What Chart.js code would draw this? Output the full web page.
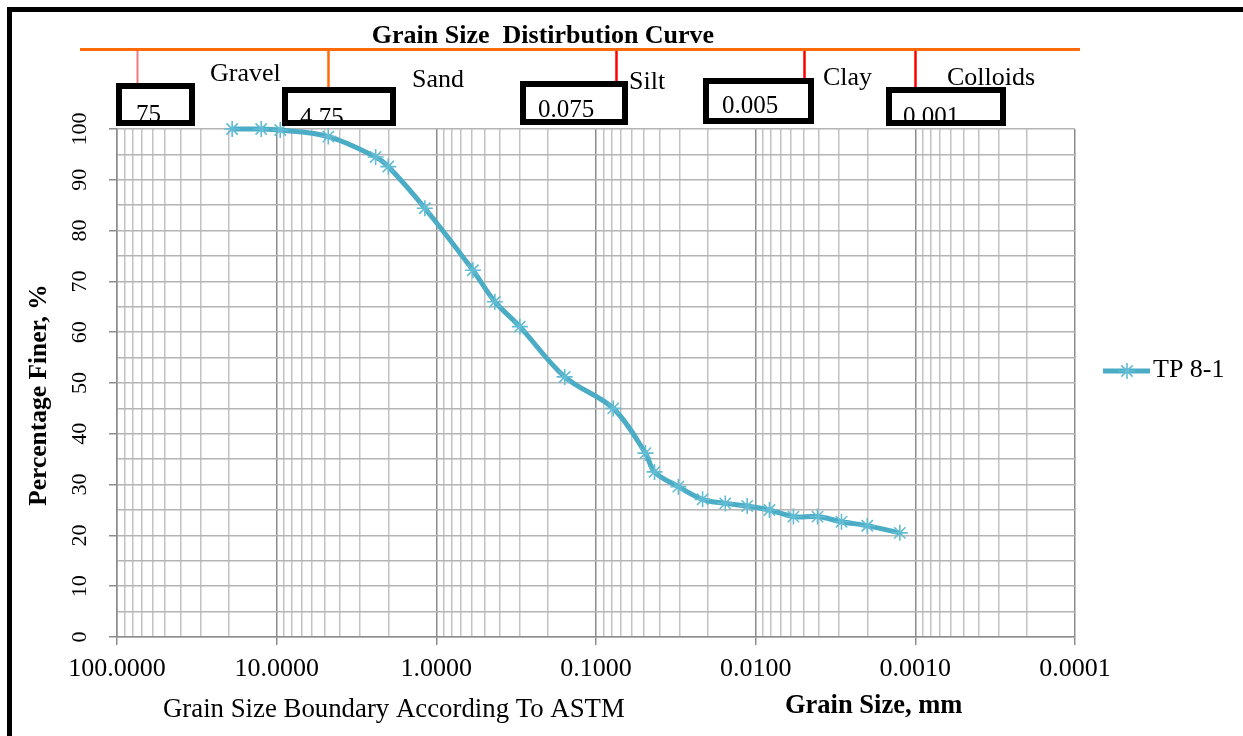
<!DOCTYPE html>
<html>
<head>
<meta charset="utf-8">
<title>Grain Size Distribution Curve</title>
<script src="https://cdn.jsdelivr.net/npm/chart.js@4.4.1/dist/chart.umd.min.js"></script>
<style>
  html, body { margin: 0; padding: 0; background: #ffffff; }
  #wrap { position: relative; width: 1243px; height: 736px; }
</style>
</head>
<body>
<div id="wrap"><canvas id="gsd" width="1243" height="736"></canvas></div>
<script>
// ---- Test results: sample TP 8-1 (sieve + hydrometer) ----
const seriesName = 'TP 8-1';
const grainSizeMm = [19.0, 12.5, 9.5, 4.75, 2.4, 2.0, 1.18, 0.59, 0.43, 0.30, 0.157, 0.078,
                     0.049, 0.043, 0.0305, 0.0215, 0.0155, 0.0113, 0.0082, 0.0058, 0.0041, 0.0029, 0.0020, 0.00125];
const percentFiner = [100, 100, 99.8, 98.5, 94.5, 92.6, 84.4, 72.2, 66.0, 61.1, 51.2, 45.0,
                      36.2, 32.5, 29.6, 27.1, 26.3, 25.8, 25.0, 23.7, 23.7, 22.7, 21.9, 20.5];

// ---- Axis ticks ----
const decadeTicks = [100, 10, 1, 0.1, 0.01, 0.001, 0.0001];
const decadeSubdivisions = [9, 8, 7, 6, 5, 4, 3, 2];
const finerTickLabels = [0, 10, 20, 30, 40, 50, 60, 70, 80, 90, 100];

// ---- ASTM grain size boundaries (mm) and soil classes ----
const boundarySizes = [75, 4.75, 0.075, 0.005, 0.001];
const boundaryLabels = ['75', '4.75', '0.075', '0.005', '0.001'];
const soilClasses = ['Gravel', 'Sand', 'Silt', 'Clay', 'Colloids'];

// ---- Header layout (boxes, labels, boundary marker styles) ----
const boxFrames = [[116, 83, 195, 126], [282, 87, 396, 126], [520, 81, 628, 125], [703, 78, 814, 124], [886, 87, 1006, 126]];
const boxTextAt = [[136, 122], [300, 125], [538, 117], [722, 113], [903, 124]];
const classLabelAt = [[210, 81], [412, 87], [629, 89], [823, 85], [947, 85]];
const boundaryColors = ['#f67878', '#ff6a0a', '#ff0000', '#ff0000', '#ff0000'];

const SERIF = '"Liberation Serif", "Times New Roman", serif';
const LINE_COLOR = '#4bacc6';
const MAJOR_GRID = '#8c8c8c';
const MINOR_GRID = '#c2c2c2';

function buildLogTicks() {
  const ticks = [];
  decadeTicks.forEach((d, i) => {
    ticks.push({ value: d, major: true });
    if (i < decadeTicks.length - 1) {
      decadeSubdivisions.forEach(m => ticks.push({ value: d * m / 10, major: false }));
    }
  });
  return ticks;
}

function drawStar(ctx, cx, cy, r) {
  ctx.beginPath();
  ctx.moveTo(cx, cy - r); ctx.lineTo(cx, cy + r);
  ctx.moveTo(cx - r, cy); ctx.lineTo(cx + r, cy);
  const d = r * Math.SQRT1_2;
  ctx.moveTo(cx - d, cy - d); ctx.lineTo(cx + d, cy + d);
  ctx.moveTo(cx - d, cy + d); ctx.lineTo(cx + d, cy - d);
  ctx.stroke();
}

// Header bands, frame, captions and legend drawn around the plot
const decorations = {
  id: 'gsdDecorations',
  afterDraw(chart) {
    const { ctx, scales } = chart;
    const x = scales.x;
    ctx.save();

    // outer frame (top and left edges)
    ctx.fillStyle = '#000';
    ctx.fillRect(7, 7, 1236, 5);
    ctx.fillRect(7, 7, 5, 729);

    // title
    ctx.fillStyle = '#000';
    ctx.font = 'bold 26px ' + SERIF;
    ctx.textAlign = 'center';
    ctx.textBaseline = 'alphabetic';
    ctx.fillText('Grain Size  Distirbution Curve', 543, 43);

    // orange band line
    ctx.strokeStyle = '#ff6a0a';
    ctx.lineWidth = 3;
    ctx.beginPath();
    ctx.moveTo(80, 49.5); ctx.lineTo(1080, 49.5);
    ctx.stroke();

    // boundary markers down to their boxes
    boundarySizes.forEach((s, i) => {
      const px = Math.round(x.getPixelForValue(s)) + 0.5;
      ctx.strokeStyle = boundaryColors[i];
      ctx.lineWidth = i === 0 ? 2 : 2.5;
      ctx.beginPath();
      ctx.moveTo(px, 51); ctx.lineTo(px, boxFrames[i][1]);
      ctx.stroke();
    });

    // soil class names
    ctx.font = '26px ' + SERIF;
    ctx.textAlign = 'left';
    ctx.fillStyle = '#000';
    soilClasses.forEach((name, i) => {
      ctx.fillText(name, classLabelAt[i][0], classLabelAt[i][1]);
    });

    // boundary value boxes
    boundaryLabels.forEach((lab, i) => {
      const [x0, y0, x1, y1] = boxFrames[i];
      ctx.fillStyle = '#fff';
      ctx.fillRect(x0, y0, x1 - x0, y1 - y0);
      ctx.save();
      ctx.beginPath();
      ctx.rect(x0 + 6, y0 + 6, x1 - x0 - 12, y1 - y0 - 12);
      ctx.clip();
      ctx.fillStyle = '#000';
      ctx.font = '25px ' + SERIF;
      ctx.textAlign = 'left';
      ctx.fillText(lab, boxTextAt[i][0], boxTextAt[i][1]);
      ctx.restore();
      ctx.strokeStyle = '#000';
      ctx.lineWidth = 6;
      ctx.strokeRect(x0 + 3, y0 + 3, x1 - x0 - 6, y1 - y0 - 6);
    });

    // y axis caption
    ctx.save();
    ctx.translate(46, 395);
    ctx.rotate(-Math.PI / 2);
    ctx.font = 'bold 25.5px ' + SERIF;
    ctx.textAlign = 'center';
    ctx.fillStyle = '#000';
    ctx.fillText('Percentage Finer, %', 0, 0);
    ctx.restore();

    // x axis captions
    ctx.fillStyle = '#000';
    ctx.textAlign = 'left';
    ctx.font = '26.8px ' + SERIF;
    ctx.fillText('Grain Size Boundary According To ASTM', 163, 717);
    ctx.font = 'bold 26.5px ' + SERIF;
    ctx.fillText('Grain Size, mm', 785, 713);

    // legend
    const ds = chart.data.datasets[0];
    const ly = 371;
    ctx.strokeStyle = ds.borderColor;
    ctx.lineWidth = ds.borderWidth;
    ctx.beginPath();
    ctx.moveTo(1103, ly); ctx.lineTo(1150, ly);
    ctx.stroke();
    ctx.strokeStyle = ds.pointBorderColor;
    ctx.lineWidth = ds.pointBorderWidth;
    drawStar(ctx, 1127, ly, ds.pointRadius);
    ctx.fillStyle = '#000';
    ctx.font = '26px ' + SERIF;
    ctx.textAlign = 'left';
    ctx.fillText(ds.label, 1153, 377);

    ctx.restore();
  }
};

new Chart(document.getElementById('gsd'), {
  type: 'line',
  data: {
    datasets: [{
      label: seriesName,
      data: grainSizeMm.map((s, i) => ({ x: s, y: percentFiner[i] })),
      borderColor: LINE_COLOR,
      borderWidth: 5,
      tension: 0.35,
      fill: false,
      clip: false,
      pointStyle: 'star',
      pointRadius: 8,
      pointBorderWidth: 1.6,
      pointBorderColor: '#62bcd3',
      pointBackgroundColor: LINE_COLOR
    }]
  },
  options: {
    responsive: false,
    animation: false,
    devicePixelRatio: 1,
    layout: { padding: { left: 0, top: 129, right: 168, bottom: 0 } },
    plugins: {
      legend: { display: false },
      tooltip: { enabled: false },
      title: { display: false }
    },
    scales: {
      x: {
        type: 'logarithmic',
        reverse: true,
        min: 0.0001,
        max: 100,
        afterBuildTicks: (scale) => { scale.ticks = buildLogTicks(); },
        afterFit: (scale) => { scale.height = 99; },
        ticks: {
          autoSkip: false,
          maxRotation: 0,
          minRotation: 0,
          padding: 9,
          color: '#000',
          font: { family: SERIF, size: 26 },
          callback: (v, i, ticks) => ticks[i].major ? Number(v).toFixed(4) : ''
        },
        grid: {
          color: (c) => (c.tick && c.tick.major) ? MAJOR_GRID : MINOR_GRID,
          lineWidth: 1.5,
          drawTicks: true,
          tickLength: 8,
          tickColor: (c) => (c.tick && c.tick.major) ? MAJOR_GRID : 'rgba(0,0,0,0)'
        },
        border: { color: MAJOR_GRID, width: 1.5 }
      },
      y: {
        type: 'linear',
        min: 0,
        max: 100,
        afterFit: (scale) => { scale.width = 117; },
        ticks: {
          stepSize: 5,
          autoSkip: false,
          minRotation: 90,
          maxRotation: 90,
          crossAlign: 'center',
          padding: 12,
          color: '#000',
          font: { family: SERIF, size: 22 },
          callback: (v) => finerTickLabels.includes(v) ? String(v) : ''
        },
        grid: {
          color: '#b4b4b4',
          lineWidth: 1.5,
          drawTicks: true,
          tickLength: 8,
          tickColor: (c) => (c.tick && finerTickLabels.includes(c.tick.value)) ? MAJOR_GRID : 'rgba(0,0,0,0)'
        },
        border: { color: MAJOR_GRID, width: 1.5 }
      }
    }
  },
  plugins: [decorations]
});
</script>
</body>
</html>
